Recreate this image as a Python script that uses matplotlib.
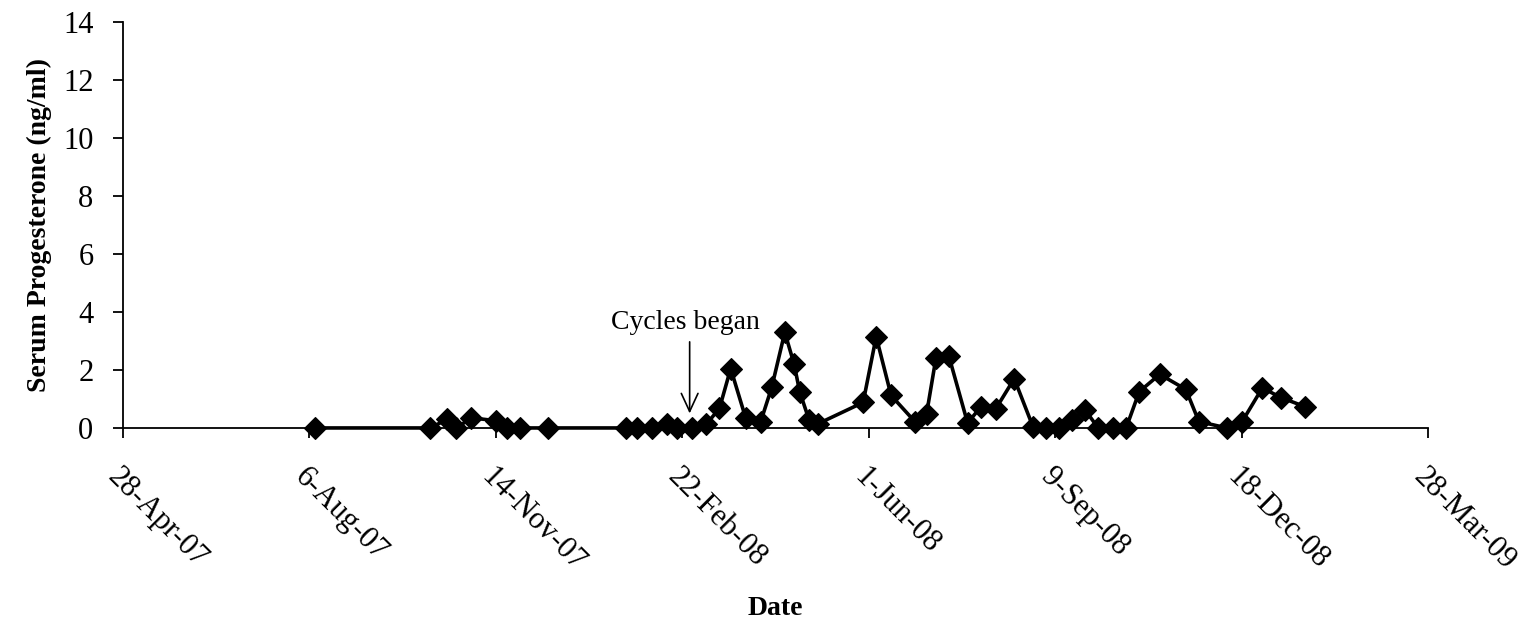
import matplotlib
matplotlib.use("Agg")
import matplotlib.pyplot as plt
import numpy as np
from datetime import date

# Serum progesterone samples
sample_dates = [
    date(2007, 8, 9), date(2007, 10, 10), date(2007, 10, 19), date(2007, 10, 24),
    date(2007, 11, 1), date(2007, 11, 14), date(2007, 11, 20), date(2007, 11, 27),
    date(2007, 12, 12), date(2008, 1, 23), date(2008, 1, 29), date(2008, 2, 6),
    date(2008, 2, 14), date(2008, 2, 19), date(2008, 2, 27), date(2008, 3, 6),
    date(2008, 3, 13), date(2008, 3, 19), date(2008, 3, 27), date(2008, 4, 4),
    date(2008, 4, 10), date(2008, 4, 17), date(2008, 4, 22), date(2008, 4, 25),
    date(2008, 4, 30), date(2008, 5, 5), date(2008, 5, 29), date(2008, 6, 5),
    date(2008, 6, 13), date(2008, 6, 26), date(2008, 7, 2), date(2008, 7, 7),
    date(2008, 7, 14), date(2008, 7, 24), date(2008, 7, 31), date(2008, 8, 8),
    date(2008, 8, 18), date(2008, 8, 28), date(2008, 9, 4), date(2008, 9, 11),
    date(2008, 9, 18), date(2008, 9, 25), date(2008, 10, 2), date(2008, 10, 10),
    date(2008, 10, 17), date(2008, 10, 24), date(2008, 11, 4), date(2008, 11, 18),
    date(2008, 11, 25), date(2008, 12, 10), date(2008, 12, 18), date(2008, 12, 29),
    date(2009, 1, 8), date(2009, 1, 21),
]
progesterone = [
    0, 0, 0.3, 0,
    0.35, 0.25, 0, 0,
    0, 0, 0, 0,
    0.15, 0, 0, 0.13,
    0.68, 2.05, 0.35, 0.2,
    1.4, 3.3, 2.2, 1.25,
    0.28, 0.15, 0.88, 3.15,
    1.12, 0.2, 0.48, 2.4,
    2.47, 0.17, 0.72, 0.65,
    1.7, 0.05, 0, 0,
    0.27, 0.62, 0, 0,
    0, 1.25, 1.85, 1.33,
    0.22, 0, 0.2, 1.38,
    1.05, 0.73,
]

tick_dates = [date(2007, 4, 28), date(2007, 8, 6), date(2007, 11, 14),
              date(2008, 2, 22), date(2008, 6, 1), date(2008, 9, 9),
              date(2008, 12, 18), date(2009, 3, 28)]
tick_labels = ["28-Apr-07", "6-Aug-07", "14-Nov-07", "22-Feb-08",
               "1-Jun-08", "9-Sep-08", "18-Dec-08", "28-Mar-09"]
y_ticks = [0, 2, 4, 6, 8, 10, 12, 14]

cycle_start = date(2008, 2, 26)

plt.rcParams['font.family'] = ['Liberation Serif', 'DejaVu Serif']

fig = plt.figure(figsize=(15.38, 6.34), dpi=100)
ax = fig.add_axes([0.0797, 0.325, 0.849, 0.64])

ax.plot(sample_dates, progesterone, color='black', linewidth=2.6,
        marker='D', markersize=11.5, markerfacecolor='black',
        markeredgecolor='black', markeredgewidth=0.8, clip_on=False, zorder=3)

ax.set_xlim(tick_dates[0], tick_dates[-1])
ax.set_ylim(0, 14)
ax.set_xticks(tick_dates)
ax.set_xticklabels(tick_labels, rotation=-45, ha='left', va='top',
                   rotation_mode='anchor', fontsize=22)
ax.set_yticks(y_ticks)
ax.set_yticklabels([str(v) for v in y_ticks], fontsize=22)

for side in ['top', 'right']:
    ax.spines[side].set_visible(False)
for side in ['left', 'bottom']:
    ax.spines[side].set_linewidth(1.3)
ax.tick_params(axis='both', direction='out', length=7, width=1.3)
ax.tick_params(axis='x', pad=18)
ax.tick_params(axis='y', pad=14)

ax.set_ylabel("Serum Progesterone (ng/ml)", fontsize=20, fontweight='bold',
              labelpad=8)
ax.set_xlabel("Date", fontsize=20, fontweight='bold', labelpad=13)

# label and a straight down arrow marking the start of cycling
ax.text(date(2008, 2, 24), 3.65, "Cycles began", ha='center', va='center',
        fontsize=20)
ax.annotate("", xy=(cycle_start, 0.5), xytext=(cycle_start, 2.97),
            arrowprops=dict(arrowstyle='->,head_length=1.3,head_width=0.6',
                            color='black', linewidth=1.2,
                            shrinkA=0, shrinkB=0))

fig.savefig("out.png", dpi=100)
